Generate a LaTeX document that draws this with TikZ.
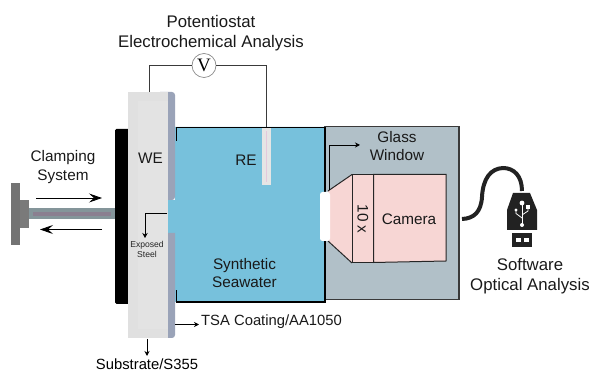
\documentclass[tikz,border=0pt]{standalone}
\usepackage{fontspec}
\setmainfont{Liberation Sans}
\newfontfamily\serifV{Liberation Serif}
\usetikzlibrary{arrows.meta}
\definecolor{sea}{HTML}{77C1DC}
\definecolor{plate}{HTML}{E0E0E0}
\definecolor{plateb}{HTML}{E3E3E3}
\definecolor{coat}{HTML}{9AA3B8}
\definecolor{boxg}{HTML}{B1C0C8}
\definecolor{pinkc}{HTML}{F7D6D4}
\definecolor{dk}{HTML}{3A3A3A}
\definecolor{usbk}{HTML}{222222}
\definecolor{rodc}{HTML}{84959A}
\definecolor{rodi}{HTML}{8A7F90}
\definecolor{rep}{HTML}{E3C8DC}
\tikzset{
 lab/.style={font=\fontsize{15.3}{18.5}\selectfont,align=center,text=black!90,inner sep=0pt},
 biglab/.style={font=\fontsize{16.8}{20}\selectfont,align=center,text=black!90,inner sep=0pt},
 smalllab/.style={font=\fontsize{8.6}{10}\selectfont,align=center,text=black!85,inner sep=0pt},
 thinarrow/.style={line width=.9pt,-{Stealth[length=5pt,width=5pt]}},
 bigarrow/.style={line width=.8pt,-{Stealth[length=13pt,width=9pt,inset=5pt]}},
 wire/.style={line width=.8pt,draw=dk},
 edge/.style={line width=1.5pt,draw=black},
 optic/.style={line width=1pt,draw=black!85,fill=pinkc}
}
\begin{document}
\begin{tikzpicture}[x=1pt,y=-1pt]
\useasboundingbox (0,0) rectangle (590,371);
% right box
\draw[fill=boxg,draw=dk,line width=1.5pt] (325,126.5) rectangle (459,299.5);
% sea
\fill[sea] (175,127) -- (325,127) -- (325,302) -- (175,302) -- (175,233) -- (167,233) -- (167,200) -- (175,200) -- cycle;
\draw[edge] (176.5,141) -- (176.5,127.5) -- (325,127.5) -- (325,302) -- (176.5,302) -- (176.5,290);
% black backing
\fill[black,rounded corners=1.5pt] (130,129) -- (115,129) -- (115,304) -- (130,304) -- cycle;
% coating
\fill[coat] (160,200) -- (160,92) [rounded corners=3pt] -- (175,92) -- (175,200) [sharp corners] -- cycle;
\fill[coat] (160,233) -- (175,233) [rounded corners=3pt] -- (175,338) -- (160,338) [sharp corners] -- cycle;
% plate
\fill[plate] (128,92) rectangle (167.5,338);
\fill[plateb] (138,101) rectangle (167.5,329);
% clamp
\fill[rodc] (29,208) rectangle (115,219.5);
\fill[rodi] (33,212) rectangle (111,216);
\fill[black!55] (11,183) rectangle (20,245);
\fill[black!52] (20,200) rectangle (29,228);
\node[lab] (clamp) at (63,167) {Clamping\\System};
\coordinate (a1) at (36,198); \coordinate (a2) at (102,198);
\coordinate (b1) at (102,229.5); \coordinate (b2) at (40,229.5);
\draw[bigarrow] (a1) -- (a2);
\draw[bigarrow] (b1) -- (b2);
% electrode RE
\fill[black!10] (262,128) rectangle (271,185);
\fill[rep] (265.7,131) rectangle (267.3,182);
% wires
\node[circle,draw=black!45,fill=white,line width=.7pt,minimum size=24pt,inner sep=0pt,font=\serifV\fontsize{19}{19}\selectfont] (V) at (204,65.5) {V};
\coordinate (we) at (149,92); \coordinate (re) at (266,127);
\draw[wire] (we) |- (V.west);
\draw[wire] (V.east) -| (re);
% labels
\node[biglab] (pot) at (211,33) {Potentiostat\\Electrochemical Analysis};
\node[lab] (wel) at (150.5,158) {WE};
\node[lab] (rel) at (246,160) {RE};
\node[lab] (sw) at (244.5,273) {Synthetic\\Seawater};
\node[smalllab] (ex) at (147,249.5) {Exposed\\Steel};
\coordinate (e0) at (167,213);\coordinate (e1) at (145,238);
\draw[line width=.9pt,-{Stealth[length=5pt,width=5.5pt]}] (e0) -| (e1);
% bottom labels
\coordinate (t0) at (175,324.5); \coordinate (t1) at (199,324.5);
\draw[thinarrow] (t0) -- (t1);
\node[lab,anchor=west,font=\fontsize{14.8}{18}\selectfont] (tsa) at (201,322) {TSA Coating/AA1050};
\coordinate (s0) at (147,339); \coordinate (s1) at (147,356);
\draw[thinarrow] (s0) -- (s1);
\node[font=\fontsize{14.8}{16}\selectfont,inner sep=0pt] (sub) at (147,364) {Substrate/S355};
% camera
\path[fill=pinkc] (328,191) -- (352,174.5) -- (352,263) -- (328,241) -- cycle;
\draw[line width=1pt,draw=black!85] (328,191) -- (352,174.5);
\draw[line width=1pt,draw=black!85] (328,241) -- (352,263);
\draw[optic] (352,174.5) rectangle (373.5,263);
\draw[optic] (373.5,174.5) -- (446,174.5) -- (446,261) -- (373.5,262.5) -- cycle;
\node[lab] (cam) at (409,219) {Camera};
\node[lab,rotate=-90] (tenx) at (363,219) {10 x};
\fill[white,rounded corners=2.5pt] (320,192) rectangle (330,241);
\coordinate (g0) at (329.5,190); \coordinate (g1) at (360,145);
\draw[line width=.8pt,-{Stealth[length=5pt,width=5pt]}] (g0) |- (g1);
\node[lab] (glass) at (397,146) {Glass\\Window};
% USB
\draw[usbk,line width=4pt] (462,219) .. controls (474,218.5) and (481,212) .. (482,197) .. controls (483,178) and (491,168.5) .. (503,168) .. controls (514,168) and (522,176) .. (522,191);
\fill[usbk] (513,193) -- (530,193) -- (537,210) -- (537,230) -- (507,230) -- (507,210) -- cycle;
\fill[usbk] (512,233.5) rectangle (532,247);
\fill[white] (516,238.5) rectangle (520.5,242);
\fill[white] (524,238.5) rectangle (528.5,242);
% USB symbol
\draw[white,line width=.9pt] (522,204) -- (522,224);
\draw[white,line width=.8pt] (522,218) -- (516,213.5) -- (516,211);
\draw[white,line width=.8pt] (522,215) -- (528,211) -- (528,208);
\fill[white] (522,203) circle (2.4pt);
\fill[white] (516,210) circle (1.7pt);
\fill[white] (526.3,205.5) rectangle (529.7,209);
\fill[white] (522,225) circle (2pt);
\node[biglab] (soft) at (530,276) {Software\\Optical Analysis};
\end{tikzpicture}
\end{document}
